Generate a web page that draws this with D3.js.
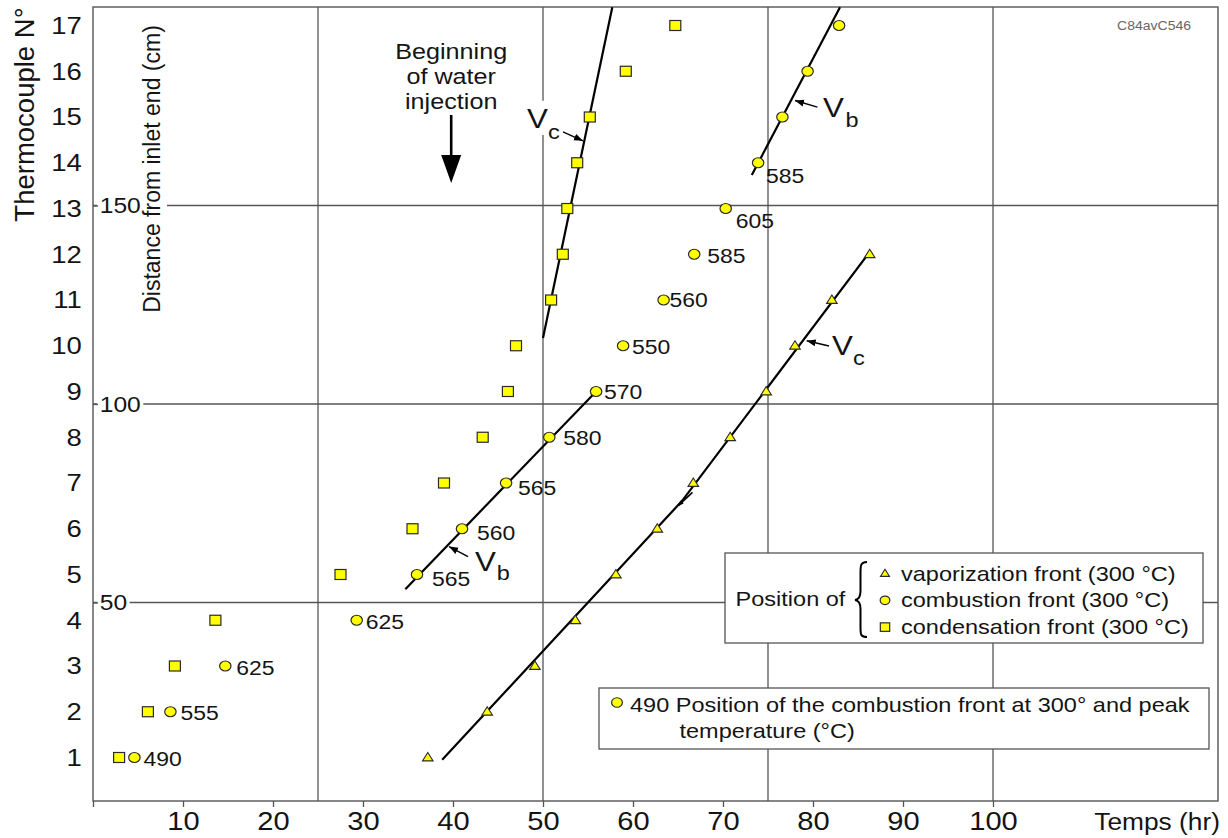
<!DOCTYPE html>
<html><head><meta charset="utf-8">
<script src="https://cdn.jsdelivr.net/npm/d3@7"></script>
<style>html,body{margin:0;padding:0;background:#fff;} svg{display:block;}</style>
</head><body>
<svg id="chart" width="1228" height="838"></svg>
<script>
// ---------------- DATA ----------------
const thermocouples = d3.range(1, 18);                    // thermocouple numbers 1..17
const condensationHr = [2.9, 6.1, 9.1, 13.6, 27.5, 35.5, 39.0, 43.3, 46.1, 47.0, 50.9, 52.2, 52.7, 53.8, 55.2, 59.2, 64.7];
const combustionHr   = [4.6, 8.6, 14.7, 29.3, 36.0, 41.0, 45.9, 50.7, 55.9, 58.9, 63.4, 66.8, 70.3, 73.9, 76.6, 79.4, 82.9];
const peakTemp       = [490, 555, 625, 625, 565, 560, 565, 580, 570, 550, 560, 585, 605, 585, null, null, null];
const vaporizationHr = [37.2, 43.8, 49.1, 53.6, 58.1, 62.7, 66.7, 70.8, 74.8, 78.0, 82.1, 86.3];
const xTicks = [0, 10, 20, 30, 40, 50, 60, 70, 80, 90, 100];
const xGrid = [25, 50, 75, 100];
const distTicks = [50, 100, 150];
// fitted velocity lines [hours, thermocouple]
const vcCondLine = [[50.0, 10.17], [57.7, 17.4]];
const vbLowLine  = [[34.7, 4.68], [55.9, 9.0]];
const vbUpLine   = [[73.2, 13.73], [83.0, 17.4]];
const vcVapLine  = [[38.8, 0.95], [65.5, 6.62], [86.3, 12.05]];

// ---------------- LAYOUT ----------------
const FONT = "'Liberation Sans', Arial, Helvetica, sans-serif";
const SX = 1.12;             // horizontal stretch of the original's lettering
const INK = "#141414", GRID = "#555";
const svg = d3.select('#chart').style('font-family', FONT);
const x = d3.scaleLinear().domain([0, 125]).range([93, 1218]);
const yCm = d3.scaleLinear().domain([0, 200]).range([801, 7]);
const yTC = d3.scaleLinear().domain([1, 17]).range([757.5, 25.5]);

const gGrid = svg.append('g'), gBg = svg.append('g'), gAxes = svg.append('g'),
      gLines = svg.append('g'), gMarks = svg.append('g'), gText = svg.append('g'), gLeg = svg.append('g');

const defs = svg.append('defs');
defs.append('marker').attr('id', 'arr').attr('markerUnits', 'userSpaceOnUse')
  .attr('markerWidth', 10).attr('markerHeight', 8).attr('refX', 9).attr('refY', 4).attr('orient', 'auto')
  .append('path').attr('d', 'M0,0.5 L9,4 L0,7.5 Z').attr('fill', '#000');

function stext(g, px, py, str, size, anchor) {
  return g.append('text').attr('transform', `translate(${px},${py}) scale(${SX},1)`)
    .attr('font-size', size).attr('text-anchor', anchor || 'start').attr('fill', INK).text(str);
}
function bgFor(node, pad) {
  const b = node.getBoundingClientRect();
  gBg.append('rect').attr('x', b.left - pad).attr('y', b.top - pad)
    .attr('width', b.width + 2 * pad).attr('height', b.height + 2 * pad).attr('fill', '#fff');
}

// frame & grid
gGrid.append('rect').attr('x', x(0)).attr('y', yCm(200)).attr('width', x(125) - x(0)).attr('height', yCm(0) - yCm(200))
  .attr('fill', 'none').attr('stroke', GRID).attr('stroke-width', 1.4);
gGrid.selectAll('.vg').data(xGrid).join('line').attr('x1', d => x(d)).attr('x2', d => x(d))
  .attr('y1', yCm(0)).attr('y2', yCm(200)).attr('stroke', GRID).attr('stroke-width', 1.3);
gGrid.selectAll('.hg').data(distTicks).join('line').attr('x1', x(0)).attr('x2', x(125))
  .attr('y1', d => yCm(d)).attr('y2', d => yCm(d)).attr('stroke', GRID).attr('stroke-width', 1.3);

// x axis
const ax = gAxes.append('g').attr('transform', `translate(0,${yCm(0)})`)
  .call(d3.axisBottom(x).tickValues(xTicks).tickSize(6).tickSizeOuter(0).tickPadding(4.5).tickFormat(d => d === 0 ? '' : d));
ax.select('.domain').remove();
ax.selectAll('line').attr('stroke', GRID).attr('stroke-width', 1.3);
ax.selectAll('text').attr('font-size', 26).attr('font-family', FONT).attr('fill', INK).attr('transform', `scale(${SX},1)`);
stext(gAxes, 1220, 830, 'Temps (hr)', 23.5, 'end');

// thermocouple axis
const ay = gAxes.append('g').attr('transform', `translate(${x(0)},0)`)
  .call(d3.axisLeft(yTC).tickValues(thermocouples).tickSize(0).tickPadding(10));
ay.select('.domain').remove();
ay.selectAll('text').attr('font-size', 24.5).attr('font-family', FONT).attr('fill', INK).attr('transform', `scale(${SX},1)`);
gAxes.append('text').attr('transform', `translate(34,114.5) rotate(-90)`)
  .attr('text-anchor', 'middle').attr('font-size', 27.5).attr('fill', INK).text('Thermocouple N°');

// distance axis
const ad = gAxes.append('g').attr('transform', `translate(${x(0)},0)`)
  .call(d3.axisRight(yCm).tickValues(distTicks).tickSize(5).tickPadding(1));
ad.select('.domain').remove();
ad.selectAll('line').attr('stroke', GRID).attr('stroke-width', 1.3);
ad.selectAll('text').attr('font-size', 22).attr('font-family', FONT).attr('fill', INK).attr('transform', `scale(${SX},1)`);
ad.selectAll('text').each(function () { bgFor(this, 2.5); });
const dt = gAxes.append('text').attr('transform', `translate(160,169) rotate(-90)`)
  .attr('text-anchor', 'middle').attr('font-size', 23).attr('fill', INK).text('Distance from inlet end (cm)');
bgFor(dt.node(), 2);

// watermark
stext(gText, 1191, 30, 'C84avC546', 12.5, 'end').attr('fill', '#666');

// beginning of water injection
const bx = x(39.8);
['Beginning', 'of water', 'injection'].forEach((s, i) => stext(gText, bx, 59 + i * 25, s, 22.5, 'middle'));
gText.append('line').attr('x1', bx).attr('x2', bx).attr('y1', 115).attr('y2', 160).attr('stroke', '#000').attr('stroke-width', 2.6);
gText.append('path').attr('d', `M${bx - 10},155 L${bx + 10},155 L${bx},183 Z`).attr('fill', '#000');

// velocity lines
const line = d3.line().x(d => x(d[0])).y(d => yTC(d[1]));
[vcCondLine, vbLowLine, vbUpLine, vcVapLine].forEach(l =>
  gLines.append('path').attr('d', line(l)).attr('fill', 'none').attr('stroke', '#000').attr('stroke-width', 2.2));
// small half-arrow at the bend of the vaporization line
{
  const bxp = x(vcVapLine[1][0]), byp = yTC(vcVapLine[1][1]);
  gLines.append('line').attr('x1', bxp + 10).attr('y1', byp - 8).attr('x2', bxp - 4).attr('y2', byp + 5)
    .attr('stroke', '#000').attr('stroke-width', 1.6);
  gLines.append('path').attr('d', `M${bxp - 7},${byp + 7} L${bxp - 1},${byp - 1} L${bxp + 1},${byp + 3} Z`).attr('fill', '#000');
}

// velocity annotations: tip (data units on the line) + pixel offsets
const annotations = [
  { tip: [54.44, 14.48], from: [-20, -9], v: [-56, -13], sub: [-35, -2], s: 'c' },
  { tip: [39.56, 5.61],  from: [19, 10],  v: [26, 24.3], sub: [47.7, 33.3], s: 'b' },
  { tip: [78.0, 15.36],  from: [22.4, 6.6], v: [28, 16.3], sub: [50.6, 26.3], s: 'b' },
  { tip: [79.3, 10.11],  from: [22.3, 5.3], v: [25.3, 14.3], sub: [46.3, 24.3], s: 'c' }
];
annotations.forEach(a => {
  const tx = x(a.tip[0]), ty = yTC(a.tip[1]);
  gText.append('line').attr('x1', tx + a.from[0]).attr('y1', ty + a.from[1]).attr('x2', tx).attr('y2', ty)
    .attr('stroke', '#000').attr('stroke-width', 1.4).attr('marker-end', 'url(#arr)');
  const vt = stext(gText, tx + a.v[0], ty + a.v[1], 'V', 28);
  const st = stext(gText, tx + a.sub[0], ty + a.sub[1], a.s, 21);
  bgFor(vt.node(), 1.5); bgFor(st.node(), 1);
});

// markers
const YEL = '#ffff00', MSTROKE = '#2a2a2a';
function square(g, cx, cy, k) {
  k = k || 1;
  g.append('rect').attr('x', cx - 5.5 * k).attr('y', cy - 5 * k).attr('width', 11 * k).attr('height', 10 * k)
    .attr('fill', YEL).attr('stroke', MSTROKE).attr('stroke-width', 1.2);
}
function circ(g, cx, cy, k) {
  k = k || 1;
  g.append('ellipse').attr('cx', cx).attr('cy', cy).attr('rx', 5.7 * k).attr('ry', 5 * k)
    .attr('fill', YEL).attr('stroke', MSTROKE).attr('stroke-width', 1.2);
}
function tri(g, cx, cy, k) {
  k = k || 1;
  g.append('path').attr('d', `M${cx},${cy - 5 * k} L${cx + 5.3 * k},${cy + 3.4 * k} L${cx - 5.3 * k},${cy + 3.4 * k} Z`)
    .attr('fill', YEL).attr('stroke', MSTROKE).attr('stroke-width', 1.1);
}
condensationHr.forEach((h, i) => square(gMarks, x(h), yTC(thermocouples[i])));
combustionHr.forEach((h, i) => circ(gMarks, x(h), yTC(thermocouples[i])));
vaporizationHr.forEach((h, i) => tri(gMarks, x(h), yTC(thermocouples[i])));

// peak temperature labels
const labelOffsets = [[9, 8], [10, 8], [11, 9], [9, 9], [15, 11], [15, 11], [12, 12], [14, 8], [8, 7], [9, 8], [6, 7], [13, 9], [10, 19], [8, 20]];
peakTemp.forEach((t, i) => {
  if (t == null) return;
  const o = labelOffsets[i];
  stext(gText, x(combustionHr[i]) + o[0], yTC(thermocouples[i]) + o[1], t, 20.5);
});

// legend 1
gLeg.append('rect').attr('x', 725).attr('y', 553).attr('width', 478).attr('height', 90)
  .attr('fill', '#fff').attr('stroke', GRID).attr('stroke-width', 1.3);
stext(gLeg, 735.6, 606, 'Position of', 21);
gLeg.append('path').attr('d', 'M867,562 C861,562 860.5,565 860.5,572 L860.5,591 C860.5,597 859,599.5 855,600 C859,600.5 860.5,603 860.5,609 L860.5,628 C860.5,635 861,637 867,637')
  .attr('fill', 'none').attr('stroke', '#000').attr('stroke-width', 2);
const legItems = [['vaporization front (300 °C)', tri], ['combustion front (300 °C)', circ], ['condensation front (300 °C)', square]];
legItems.forEach((it, i) => {
  const cy = 573.5 + i * 26.8;
  it[1](gLeg, 885, cy, 0.85);
  stext(gLeg, 901, cy + 7, it[0], 21);
});

// legend 2
gLeg.append('rect').attr('x', 599).attr('y', 688).attr('width', 610).attr('height', 61)
  .attr('fill', '#fff').attr('stroke', GRID).attr('stroke-width', 1.3);
circ(gLeg, 617, 702.5, 0.95);
stext(gLeg, 630, 711.5, '490 Position of the combustion front at 300° and peak', 21);
stext(gLeg, 679.5, 737.5, 'temperature (°C)', 21);
</script>
</body></html>
